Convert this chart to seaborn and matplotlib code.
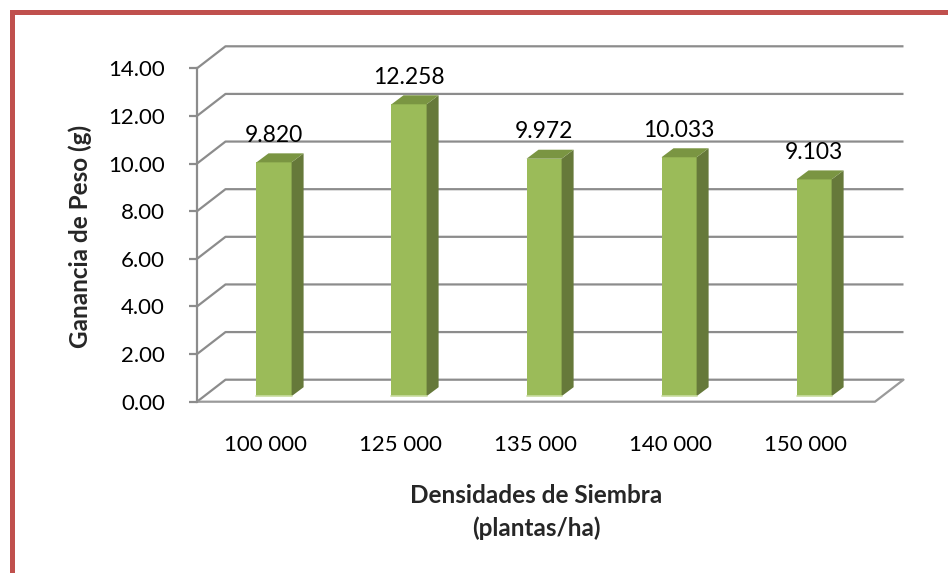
import matplotlib
matplotlib.use("Agg")
import matplotlib.pyplot as plt
from matplotlib.patches import Polygon, Rectangle
from matplotlib.lines import Line2D
import numpy as np
import pandas as pd
import seaborn as sns

# Data
densidades = ["100 000", "125 000", "135 000", "140 000", "150 000"]
ganancia = [9.820, 12.258, 9.972, 10.033, 9.103]
y_ticks = [0, 2, 4, 6, 8, 10, 12, 14]

sns.set_theme(style="white")
plt.rcParams["font.family"] = ["Lato", "DejaVu Sans"]

W, H = 948, 573
fig = plt.figure(figsize=(W / 100, H / 100), dpi=100)
fig.patch.set_facecolor("white")

# Front plane of the pseudo-3D plot (pixel geometry)
left_px, right_px = 197, 875
top_px, bottom_px = 68.3, 401.7
ax = fig.add_axes([left_px / W, 1 - bottom_px / H,
                   (right_px - left_px) / W, (bottom_px - top_px) / H])
ax.set_facecolor("none")

df = pd.DataFrame({"densidad": densidades, "ganancia": ganancia})

FRONT = "#9bbb59"
SIDE = "#66793a"
TOP = "#7a9542"
GRID = "#8c8c8c"

sns.barplot(data=df, x="densidad", y="ganancia", order=densidades,
            color=FRONT, saturation=1, width=0.26, ax=ax, zorder=3)

xmin, xmax = -0.504, 4.518
ax.set_xlim(xmin, xmax)
ax.set_ylim(0, 14)

# pixel -> data scale factors
px_x = (right_px - left_px) / (xmax - xmin)
px_y = (bottom_px - top_px) / 14.0

# depth of the walls and of the bars (pixels)
wall_dx, wall_dy = 28.5 / px_x, 22.0 / px_y
bar_dx, bar_dy = 12.0 / px_x, 9.0 / px_y
shift_x, shift_y = 9.0 / px_x, 5.5 / px_y

# back wall gridlines with the left side-wall diagonals
for v in y_ticks:
    ax.add_line(Line2D([xmin, xmin + wall_dx, xmax + wall_dx],
                       [v, v + wall_dy, v + wall_dy],
                       color=GRID, lw=1.6, zorder=1, clip_on=False,
                       solid_capstyle="butt"))
# floor: front edge and right diagonal
ax.add_line(Line2D([xmin, xmax, xmax + wall_dx], [0, 0, wall_dy],
                   color="#9a9a9a", lw=1.6, zorder=1, clip_on=False))

# move bar fronts to mid depth and add side/top faces
for patch in ax.patches:
    x0 = patch.get_x() + shift_x
    w = patch.get_width()
    h = patch.get_height()
    y0 = shift_y
    patch.set_x(x0)
    patch.set_y(y0)
    patch.set_edgecolor("none")
    patch.set_clip_on(False)
    x1, y1 = x0 + w, y0 + h
    side = Polygon([(x1, y0), (x1 + bar_dx, y0 + bar_dy),
                    (x1 + bar_dx, y1 + bar_dy), (x1, y1)],
                   closed=True, facecolor=SIDE, edgecolor="none",
                   zorder=3, clip_on=False)
    top = Polygon([(x0, y1), (x1, y1), (x1 + bar_dx, y1 + bar_dy),
                   (x0 + bar_dx, y1 + bar_dy)],
                  closed=True, facecolor=TOP, edgecolor="none",
                  zorder=3, clip_on=False)
    ax.add_patch(side)
    ax.add_patch(top)
    ax.add_line(Line2D([x0, x1], [y0, y0], color="#c9dca0", lw=1.2,
                       zorder=4, clip_on=False))
    ax.annotate(f"{h:.3f}", (x0 + w / 2, y1), xytext=(0, 12),
                textcoords="offset points", ha="center", va="bottom",
                fontsize=16.5, color="black", zorder=5)

# axes styling
for s in ["top", "right", "bottom"]:
    ax.spines[s].set_visible(False)
ax.spines["left"].set_color(GRID)
ax.spines["left"].set_linewidth(1.6)
ax.set_yticks(y_ticks)
ax.set_yticklabels([f"{v:.2f}" for v in y_ticks])
ax.tick_params(axis="y", left=True, length=6, width=1.6, color=GRID,
               pad=17, labelsize=16, labelcolor="black")
ax.tick_params(axis="x", bottom=False, length=0, pad=24,
               labelsize=16, labelcolor="black")
ax.set_xlabel("")
ax.set_ylabel("")
ax.grid(False)

fig.text(536 / W, 1 - 512 / H, "Densidades de Siembra\n(plantas/ha)",
         ha="center", va="center", fontsize=17.5, fontweight="bold",
         linespacing=1.5)
fig.text(80 / W, 1 - 236 / H, "Ganancia de Peso (g)", rotation=90,
         ha="center", va="center", fontsize=17.5, fontweight="bold")

# chart frame
fig.add_artist(Rectangle((11.5 / W, -0.2), 2.0, 1.2 - 12 / H,
                         transform=fig.transFigure, fill=False,
                         edgecolor="#c0504d", lw=3.6, clip_on=False))

fig.savefig("out.png", dpi=100, facecolor="white")
